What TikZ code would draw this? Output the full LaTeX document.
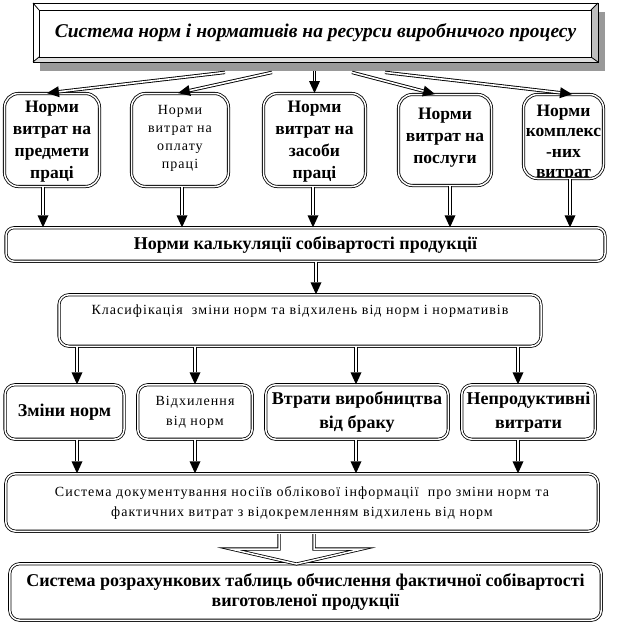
\documentclass[tikz,border=0pt]{standalone}
\usepackage{fontspec}
\setmainfont{Liberation Serif}
\newfontfamily\spacedfont[LetterSpace=7.5]{Liberation Serif}
\usetikzlibrary{arrows.meta}
\tikzset{
  frame/.style={draw, double, double distance=1.5pt, line width=0.8pt, rounded corners=#1, fill=white, inner sep=0pt},
  frame/.default=10pt,
  darout/.style={line width=3.4pt, -{Triangle[length=12pt,width=11pt,line width=0pt]}},
  darin/.style={white, line width=1.6pt, shorten >=12pt},
  btext/.style={font=\fontsize{18}{22}\selectfont\bfseries, align=center},
  ntext/.style={font=\fontsize{14}{18}\spacedfont, align=center},
  bevel/.style={line width=0.8pt},
}
\newcommand\dbarrow[2]{\draw[darout] #1 -- #2; \draw[darin] #1 -- #2;}
\begin{document}
\begin{tikzpicture}[x=1pt,y=-1pt]
\useasboundingbox (0,0) rectangle (625,625);
% ---- title with bevel and shadow
\fill[black!40] (40,12) rectangle (605,71);
\node[draw, fill=white, bevel, minimum width=565pt, minimum height=59pt, inner sep=0pt,
      font=\fontsize{19.5}{22}\selectfont\bfseries\itshape] (title) at (315.5,32.5)
      {Система норм і нормативів на ресурси виробничого процесу};
\fill[black!25] (598,3) -- (591,10) -- (591,57) -- (598,62) -- cycle;
\fill[black!13] (33,62) -- (39,57) -- (591,57) -- (598,62) -- cycle;
\draw[bevel] (33,3) rectangle (598,62);
\draw[bevel] (39,10) rectangle (591,57);
\draw[bevel] (33,3) -- (39,10) (598,3) -- (591,10) (33,62) -- (39,57) (598,62) -- (591,57);
% ---- row 1
\node[frame=14pt, minimum width=95pt, minimum height=93pt] (b1) at (52,140) {};
\node[btext, font=\fontsize{17.5}{22}\selectfont\bfseries] at ([yshift=-2pt]b1.center) {Норми\\витрат на\\предмети\\праці};
\node[frame=14pt, minimum width=97pt, minimum height=93pt] (b2) at (180,140) {};
\node[ntext] at ([yshift=2pt]b2.center) {Норми\\витрат на\\оплату\\праці};
\node[frame=14pt, minimum width=102pt, minimum height=93pt] (b3) at (314.5,140) {};
\node[btext, font=\fontsize{17.5}{22}\selectfont\bfseries] at ([yshift=-2pt]b3.center) {Норми\\витрат на\\засоби\\праці};
\node[frame=14pt, minimum width=93pt, minimum height=91pt] (b4) at (445,140) {};
\node[btext, font=\fontsize{17.5}{22}\selectfont\bfseries] at ([yshift=2pt]b4.center) {Норми\\витрат на\\послуги};
\node[frame=14pt, minimum width=80pt, minimum height=84pt] (b5) at (563.5,136.5) {};
\begin{scope}
  \clip ([xshift=2pt,yshift=2pt]b5.south west) rectangle ([xshift=-2pt,yshift=-2pt]b5.north east);
  \node[btext, font=\fontsize{17.5}{20.5}\selectfont\bfseries] at ([yshift=-6.5pt]b5.center) {Норми\\комплекс\\-них\\витрат};
\end{scope}
% ---- calc box
\node[frame=8pt, minimum width=599pt, minimum height=33.5pt, btext] (calc) at (305.5,244.5)
  {Норми калькуляції собівартості продукції};
% ---- classification box
\node[frame=10pt, minimum width=482pt, minimum height=51.5pt] (klas) at (300,320.5) {};
\node[ntext] at ([yshift=-17pt]klas.north) {Класифікація\ \ зміни норм та відхилень від норм і нормативів};
% ---- row 2
\node[frame=10pt, minimum width=119pt, minimum height=54.5pt, btext] (c1) at (64.5,412) {Зміни норм};
\node[frame=10pt, minimum width=114.5pt, minimum height=54.5pt, ntext, font=\fontsize{14}{20}\spacedfont] (c2) at (195,412) {Відхилення\\від норм};
\node[frame=10pt, minimum width=182.5pt, minimum height=54.5pt, btext, font=\fontsize{18}{24}\selectfont\bfseries] (c3) at (357,412) {Втрати виробництва\\від браку};
\node[frame=10pt, minimum width=133.5pt, minimum height=54.5pt, btext, font=\fontsize{18}{24}\selectfont\bfseries] (c4) at (528.5,412) {Непродуктивні\\витрати};
% ---- documentation box
\node[frame=10pt, minimum width=592.5pt, minimum height=57.5pt, ntext, font=\fontsize{14}{20}\spacedfont] (doc) at (302,502.5)
  {Система документування носіїв облікової інформації\ \ про зміни норм та\\фактичних витрат з відокремленням відхилень від норм};
% ---- final box
\node[frame=10pt, minimum width=591.5pt, minimum height=56.5pt, btext, font=\fontsize{18}{20}\selectfont\bfseries] (fin) at (305.5,592)
  {Система розрахункових таблиць обчислення фактичної собівартості\\виготовленої продукції};
% ---- big hollow arrow
\draw[double, double distance=1.5pt, line width=0.8pt, fill=white, line join=miter]
  (279,534) -- (279,549) -- (231,549) -- (296.5,564) -- (362,549) -- (314,549) -- (314,534);
% ---- arrows from title
\dbarrow{([xshift=-90.5pt,yshift=-10pt]title.south)}{([xshift=-5pt]b1.north)}
\dbarrow{([xshift=-43.5pt,yshift=-10pt]title.south)}{([xshift=-2pt]b2.north)}
\dbarrow{([xshift=-1pt,yshift=-9pt]title.south)}{(b3.north)}
\dbarrow{([xshift=36.5pt,yshift=-10pt]title.south)}{([xshift=-10pt]b4.north)}
\dbarrow{([xshift=69.5pt,yshift=-10pt]title.south)}{([xshift=8.5pt]b5.north)}
% ---- arrows row 1 -> calc
\foreach \n/\s in {b1/-9pt, b2/2pt, b3/-1.5pt, b4/5pt, b5/6.5pt}{
  \coordinate (tA) at ([xshift=\s]\n.south);
  \dbarrow{(tA)}{(tA |- calc.north)}
}
% ---- calc -> klas
\coordinate (tB) at ([xshift=10.5pt]calc.south);
\dbarrow{(tB)}{(tB |- klas.north)}
% ---- klas -> row 2 -> doc
\foreach \n/\s in {c1/12.5pt, c2/0pt, c3/-1pt, c4/-10.5pt}{
  \coordinate (tC) at ([xshift=\s]\n.north);
  \dbarrow{(tC |- klas.south)}{(tC)}
  \coordinate (tD) at ([xshift=\s]\n.south);
  \dbarrow{(tD)}{(tD |- doc.north)}
}
\end{tikzpicture}
\end{document}
